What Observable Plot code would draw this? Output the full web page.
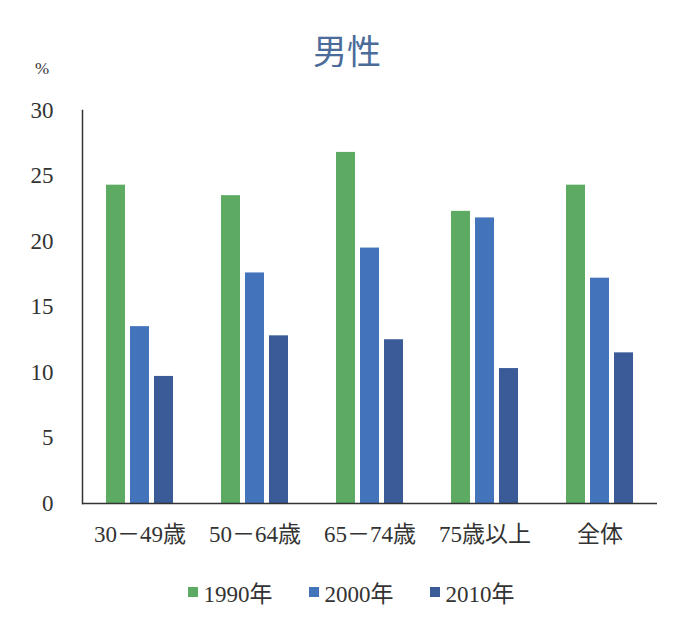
<!DOCTYPE html>
<html>
<head>
<meta charset="utf-8">
<script src="https://cdn.jsdelivr.net/npm/d3@7"></script>
<script src="https://cdn.jsdelivr.net/npm/@observablehq/plot@0.6"></script>
<style>
  html, body { margin: 0; padding: 0; background: #fff; }
  #wrap { position: relative; width: 681px; height: 623px; overflow: hidden; }
  #title { position: absolute; left: 0; width: 694px; top: 28px; text-align: center;
    font-family: "Noto Sans CJK JP", "Noto Sans", sans-serif; font-size: 34px; color: #4b6b9b; line-height: 44px; }
  #unit { position: absolute; left: 35px; top: 59px; font-family: "Liberation Serif", serif; font-size: 17px; color: #333; }
  #legend { position: absolute; left: 0; width: 702px; top: 575px; display: flex; justify-content: center; gap: 36px;
    font-family: "Liberation Serif", "Noto Sans CJK JP", serif; font-size: 23px; color: #333; }
  #legend .item { display: flex; align-items: center; gap: 6px; }
  #legend .sw { width: 10px; height: 10px; display: inline-block; }
</style>
</head>
<body>
<div id="wrap">
  <div id="title"></div>
  <div id="unit"></div>
  <div id="chart"></div>
  <div id="legend"></div>
</div>
<script>
const titleText = "男性";
const unitText = "%";
const categories = ["30－49歳", "50－64歳", "65－74歳", "75歳以上", "全体"];
const years = ["1990年", "2000年", "2010年"];
const v1990 = [24.3, 23.5, 26.8, 22.3, 24.3];
const v2000 = [13.5, 17.6, 19.5, 21.8, 17.2];
const v2010 = [9.7, 12.8, 12.5, 10.3, 11.5];
const yTicks = [0, 5, 10, 15, 20, 25, 30];
const colors = ["#5dab63", "#4273bb", "#3a5b97"];

const series = [v1990, v2000, v2010];
const data = categories.flatMap((c, i) => years.map((y, j) => ({cat: c, year: y, v: series[j][i]})));

document.getElementById("title").textContent = titleText;
document.getElementById("unit").textContent = unitText;

const plot = Plot.plot({
  width: 681,
  height: 623,
  marginTop: 110,
  marginBottom: 120,
  marginLeft: 82,
  marginRight: 24,
  style: {fontFamily: '"Liberation Serif", "Noto Sans CJK JP", serif', fontSize: "23px", color: "#333", background: "transparent"},
  fx: {domain: categories, padding: 0, label: null, axis: "bottom", tickSize: 0, tickPadding: 22},
  x: {domain: years, paddingInner: 0.19, paddingOuter: 0.91, axis: null},
  y: {domain: [0, 30], ticks: yTicks, tickSize: 0, tickPadding: 29, label: null},
  color: {domain: years, range: colors},
  marks: [
    Plot.barY(data, {fx: "cat", x: "year", y: "v", fill: "year"}),
    Plot.ruleY([0], {stroke: "#333", strokeWidth: 1.5}),
    Plot.frame({anchor: "left", fx: categories[0], stroke: "#333", strokeWidth: 1.5})
  ]
});
plot.style.position = "absolute";
plot.style.left = "0";
plot.style.top = "0";
document.getElementById("chart").appendChild(plot);

const legend = document.getElementById("legend");
years.forEach((y, i) => {
  const item = document.createElement("span");
  item.className = "item";
  const sw = document.createElement("span");
  sw.className = "sw";
  sw.style.background = colors[i];
  item.appendChild(sw);
  item.appendChild(document.createTextNode(y));
  legend.appendChild(item);
});
</script>
</body>
</html>
